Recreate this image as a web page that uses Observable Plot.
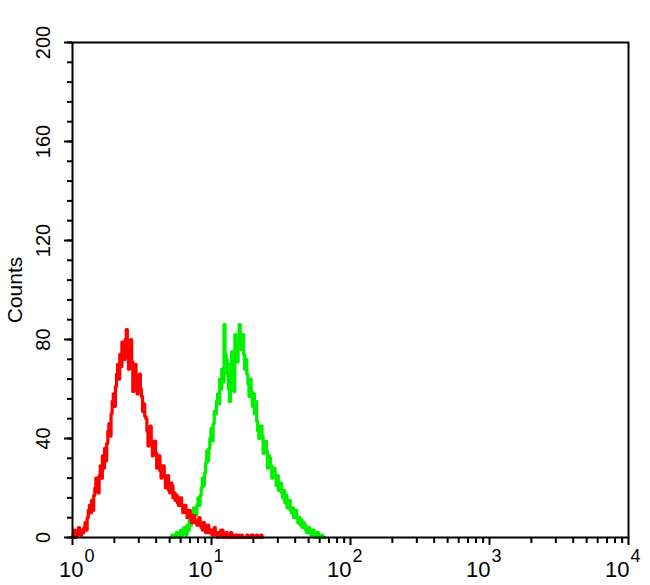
<!DOCTYPE html>
<html>
<head>
<meta charset="utf-8">
<script src="https://cdn.jsdelivr.net/npm/d3@7"></script>
<script src="https://cdn.jsdelivr.net/npm/@observablehq/plot@0.6"></script>
<style>
  html, body { margin: 0; padding: 0; background: #fff; }
  #chart { width: 650px; height: 585px; }
</style>
</head>
<body>
<div id="chart"></div>
<script>
// Histogram channels: 128 channels per decade on a 4-decade log axis
const channelsPerDecade = 128;

// Red histogram (control), counts per channel starting at channel 0
const redStart = 0;
const redCounts = [
  0,1, 3,0, 2,1, 4,2, 1,3, 2,4, 6,3, 8,11, 13,10, 15,11, 17,20, 24,19, 18,25, 29,24, 33,28, 36,31,
  38,43, 46,41, 50,55, 58,53, 61,66, 70,64, 74,69, 79,73, 72,80, 84,76, 68,74, 80,71, 59,66, 70,63, 58,65, 66,60,
  57,51, 54,49, 48,43, 37,44, 45,39, 33,38, 39,34, 28,33, 33,27, 24,29, 29,25, 20,24, 25,19, 18,22, 21,16, 18,15,
  17,14, 13,16, 16,13, 10,13, 13,10, 8,11, 11,8, 6,9, 9,6, 7,5, 5,8, 6,4, 3,6, 5,2, 4,5, 2,3,
  3,1, 2,4, 1,2, 0,2, 1,3, 3,0, 1,2, 2,0, 0,1, 2,0, 1,0, 0,1, 0,1, 0,0, 1,0, 0,0,
  0,1, 0,0, 0,1, 1,0, 0,0, 1,0, 0,0, 1,0
];

// Green histogram (stained), counts per channel starting at channel 90
const greenStart = 90;
const greenCounts = [
  0,0, 1,0, 0,1, 2,1, 0,2, 3,1, 2,4, 3,1, 5,3, 7,5, 9,7, 12,10, 9,13, 16,13, 17,20, 24,21,
  26,30, 35,31, 36,40, 44,39, 46,51, 50,55, 58,54, 64,60, 68,63, 86,74, 72,66, 60,55, 70,75, 64,59, 82,77, 71,78,
  86,80, 76,82, 74,68, 72,66, 62,57, 64,59, 53,58, 50,55, 47,43, 40,45, 45,41, 34,38, 39,35, 28,33, 32,29, 24,28,
  28,25, 21,25, 19,22, 22,18, 16,19, 14,17, 12,15, 15,11, 10,12, 8,10, 11,8, 6,8, 5,7, 4,6, 5,3, 2,4,
  4,2, 1,3, 3,1, 0,2, 2,0, 0,1, 1,0, 0,0
];

// Axis ticks and labels
const yMajorTicks = [0, 40, 80, 120, 160, 200];
const yMinorTicks = [0, 8, 16, 24, 32, 40, 48, 56, 64, 72, 80, 88, 96, 104, 112, 120,
  128, 136, 144, 152, 160, 168, 176, 184, 192, 200];
const xDecades = [1, 10, 100, 1000, 10000];
const xExponents = ["0", "1", "2", "3", "4"];
const xMinorMultipliers = [2, 3, 4, 5, 6, 7, 8, 9];
const xMinorTicks = [];
for (const d of [1, 10, 100, 1000]) for (const m of xMinorMultipliers) xMinorTicks.push(d * m);

const toRows = (start, counts) => counts.map((v, i) => ({x: 10 ** ((start + i) / channelsPerDecade), y: v}));
const red = toRows(redStart, redCounts);
const green = toRows(greenStart, greenCounts);
const decadeRows = xDecades.map((d, i) => ({x: d, exp: xExponents[i]}));
const firstDecade = decadeRows.slice(0, 1);
const otherDecades = decadeRows.slice(1);

const font = "'Liberation Sans', Arial, Helvetica, sans-serif";

const baseLabel = (rows, dx) => Plot.text(rows, {x: "x", frameAnchor: "bottom", dy: 39, dx, text: () => "10",
  fontSize: 22, textAnchor: "end", lineAnchor: "bottom", fill: "#000"});
const expLabel = (rows, dx) => Plot.text(rows, {x: "x", frameAnchor: "bottom", dy: 24, dx: dx + 1, text: "exp",
  fontSize: 18, textAnchor: "start", lineAnchor: "bottom", fill: "#000"});

const chart = Plot.plot({
  width: 650,
  height: 585,
  marginLeft: 72,
  marginRight: 22,
  marginTop: 42,
  marginBottom: 48,
  style: {fontFamily: font, background: "#fff", color: "#000", overflow: "visible"},
  x: {type: "log", domain: [1, 10000]},
  y: {domain: [0, 200]},
  marks: [
    Plot.line(green, {x: "x", y: "y", curve: "step", stroke: "#00f000", strokeWidth: 3.2}),
    Plot.line(red, {x: "x", y: "y", curve: "step", stroke: "#ff0000", strokeWidth: 3.2}),
    Plot.frame({stroke: "#000", strokeWidth: 2}),
    Plot.axisY({ticks: yMinorTicks, tickSize: 5, tickFormat: () => "", stroke: "#000", strokeWidth: 2, label: null}),
    Plot.axisY({ticks: yMajorTicks, tickSize: 8, tickFormat: () => "", stroke: "#000", strokeWidth: 2, label: null}),
    Plot.axisX({ticks: xMinorTicks, tickSize: 6, tickFormat: () => "", stroke: "#000", strokeWidth: 2, label: null}),
    Plot.axisX({ticks: xDecades, tickSize: 8, tickFormat: () => "", stroke: "#000", strokeWidth: 2, label: null}),
    Plot.text(yMajorTicks, {y: d => d, frameAnchor: "left", dx: -29, rotate: -90, textAnchor: "middle", text: d => String(d), fontSize: 20, fill: "#000"}),
    baseLabel(firstDecade, 11),
    expLabel(firstDecade, 11),
    baseLabel(otherDecades, 1),
    expLabel(otherDecades, 1),
    Plot.text(["Counts"], {frameAnchor: "left", dx: -57, rotate: -90, textAnchor: "middle", text: d => d, fontSize: 21, fill: "#000"})
  ]
});

document.getElementById("chart").append(chart);
</script>
</body>
</html>
